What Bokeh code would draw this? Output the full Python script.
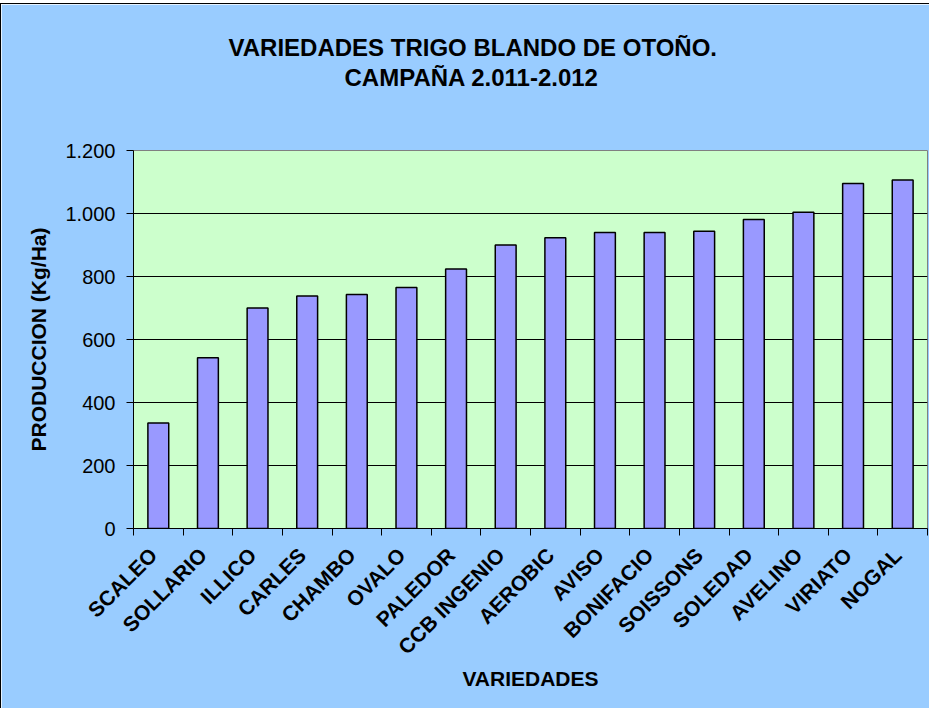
import math
from bokeh.plotting import figure
from bokeh.models import Range1d, FixedTicker, Title
from bokeh.embed import file_html
from bokeh.resources import INLINE

# ---- data ----
categories = ["SCALEO", "SOLLARIO", "ILLICO", "CARLES", "CHAMBO", "OVALO", "PALEDOR",
              "CCB INGENIO", "AEROBIC", "AVISO", "BONIFACIO", "SOISSONS", "SOLEDAD",
              "AVELINO", "VIRIATO", "NOGAL"]
production = [335, 542, 700, 738, 743, 765, 824, 900, 923, 940, 940, 944, 981, 1004, 1095, 1106]
y_ticks = [0, 200, 400, 600, 800, 1000, 1200]
y_tick_labels = ["0", "200", "400", "600", "800", "1.000", "1.200"]
title_line1 = "VARIEDADES TRIGO BLANDO DE OTOÑO."
title_line2 = "CAMPAÑA 2.011-2.012"
x_label = "VARIEDADES"
y_label = "PRODUCCION (Kg/Ha)"

n = len(categories)
x_centers = [i + 0.5 for i in range(n)]
label_pos = [i + 0.4 for i in range(n)]
x_bounds = list(range(n + 1))

FONT = "Liberation Sans"

p = figure(width=929, height=705, output_backend="svg", toolbar_location=None,
           x_range=Range1d(0, n), y_range=Range1d(0, 1200), title=None,
           min_border_left=132, min_border_right=3, min_border_top=146, min_border_bottom=181)

p.margin = (3, 0, 0, 0)
p.styles = {"border-top": "1px solid black", "border-left": "1px solid black"}

p.background_fill_color = "#CCFFCC"
p.border_fill_color = "#99CCFF"
p.outline_line_color = "#808080"
p.outline_line_width = 1

p.vbar(x=x_centers, top=production, bottom=0, width=0.42,
       fill_color="#9999FF", line_color="black", line_width=1.5)

# titles: added from the plot outward
spacer = Title(text=" ", text_font_size="10px", standoff=47)
t2 = Title(text=title_line2, align="left", offset=211, text_font=FONT, text_font_size="24px",
           text_font_style="bold", text_color="black", standoff=0)
t1 = Title(text=title_line1, align="left", offset=95, text_font=FONT, text_font_size="24px",
           text_font_style="bold", text_color="black", standoff=2)
p.add_layout(spacer, "above")
p.add_layout(t2, "above")
p.add_layout(t1, "above")

# x axis
xa = p.xaxis[0]
xa.ticker = FixedTicker(ticks=label_pos, minor_ticks=x_bounds)
xa.major_label_overrides = {c: lab for c, lab in zip(label_pos, categories)}
xa.major_label_orientation = math.pi / 4
xa.major_tick_out = 0
xa.major_tick_in = 0
xa.minor_tick_out = 7
xa.minor_tick_in = 0
xa.minor_tick_line_color = "black"
xa.axis_line_color = "black"
xa.major_label_text_font = FONT
xa.major_label_text_font_size = "21px"
xa.major_label_text_font_style = "bold"
xa.major_label_text_color = "black"
xa.major_label_standoff = 16
xa.axis_label = x_label
xa.axis_label_text_font = FONT
xa.axis_label_text_font_size = "21px"
xa.axis_label_text_font_style = "bold"
xa.axis_label_text_color = "black"
xa.axis_label_standoff = -3

# y axis
ya = p.yaxis[0]
ya.ticker = FixedTicker(ticks=y_ticks, minor_ticks=[])
ya.major_label_overrides = {t: lab for t, lab in zip(y_ticks, y_tick_labels)}
ya.major_tick_out = 7
ya.major_tick_in = 0
ya.minor_tick_out = 0
ya.minor_tick_in = 0
ya.axis_line_color = "black"
ya.major_tick_line_color = "black"
ya.major_label_text_font = FONT
ya.major_label_text_font_size = "20px"
ya.major_label_text_color = "black"
ya.major_label_standoff = 11
ya.axis_label = y_label
ya.axis_label_text_font = FONT
ya.axis_label_text_font_size = "21px"
ya.axis_label_text_font_style = "bold"
ya.axis_label_text_color = "black"
ya.axis_label_standoff = 12

p.xgrid.visible = False
p.ygrid.ticker = FixedTicker(ticks=y_ticks[1:-1])
p.ygrid.grid_line_color = "black"
p.ygrid.grid_line_width = 1

open("out.html", "w").write(file_html(p, INLINE))
